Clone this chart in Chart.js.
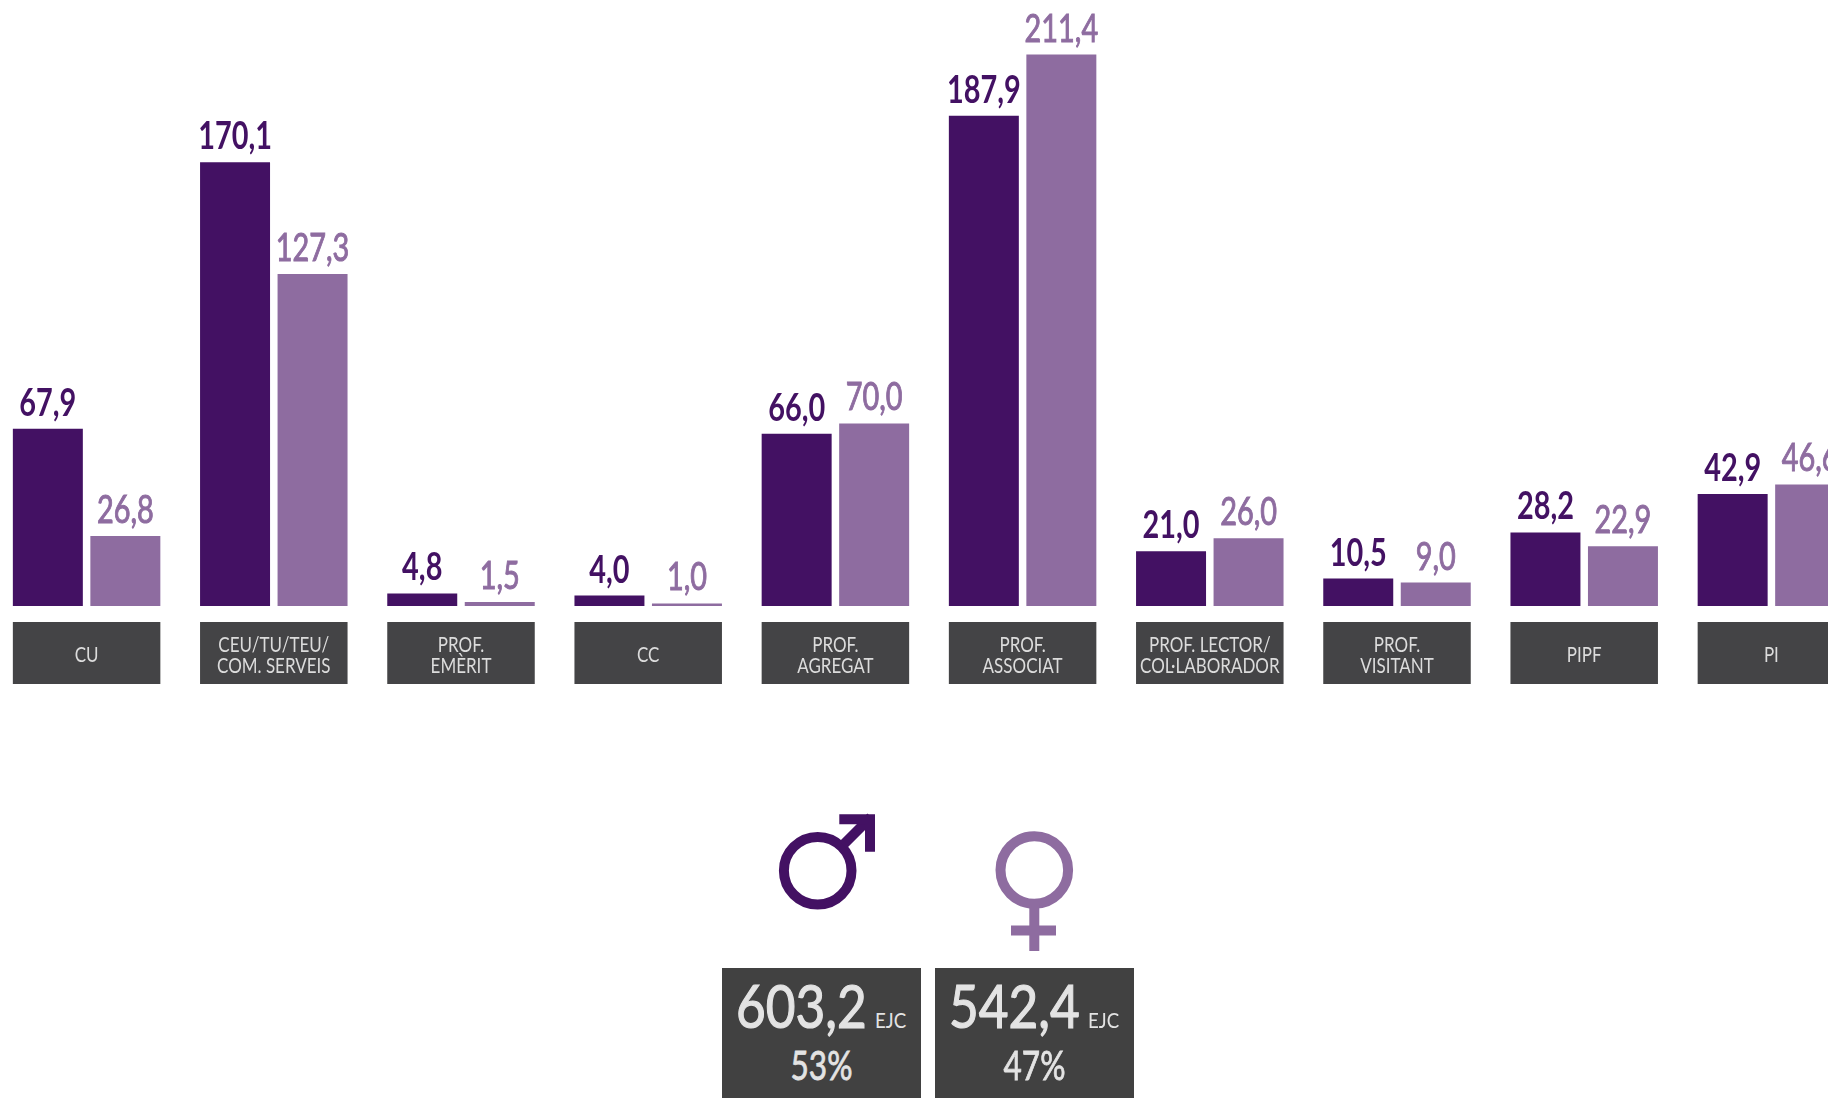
<!DOCTYPE html>
<html lang="ca"><head><meta charset="utf-8">
<style>
html,body{margin:0;padding:0;background:#fff;width:1828px;height:1098px;overflow:hidden;position:relative}
canvas{position:absolute;left:-7px;top:0}
.box{position:absolute;top:968px;width:199px;height:130px;background:#414141;color:#e3e3e3;font-family:Lato,"Open Sans",sans-serif}
.box span{position:absolute;white-space:nowrap;line-height:1}
.big{font-size:60px;left:14px;top:6.8px;transform:scaleX(.855);transform-origin:left top;-webkit-text-stroke:1.2px #e3e3e3}
.unit{font-size:22px;left:153px;top:40.5px;transform:scaleX(.85);transform-origin:left top}
.pct{font-size:41px;left:0;width:199px;text-align:center;top:75.6px;transform:scaleX(.77);transform-origin:center top;-webkit-text-stroke:.8px #e3e3e3}
svg{position:absolute;left:0;top:0}
</style>
<script src="https://cdn.jsdelivr.net/npm/chart.js@4/dist/chart.umd.min.js"></script>
</head><body>
<canvas id="c" width="1872" height="1098"></canvas>
<svg width="1828" height="1098">
  <g fill="none" stroke="#431163" stroke-width="10">
    <circle cx="817.7" cy="870.7" r="33.8"/>
    <path d="M843 845 L871 817"/>
    <path d="M839.3 819.3 H870 V851.7"/>
  </g>
  <g fill="none" stroke="#8E6CA0" stroke-width="10">
    <circle cx="1034.3" cy="870" r="33.8"/>
    <path d="M1034.3 904 V951"/>
    <path d="M1011 930.5 H1056"/>
  </g>
</svg>
<div class="box" style="left:722px"><span class="big" id="mt"></span><span class="unit">EJC</span><span class="pct" id="mp"></span></div>
<div class="box" style="left:935px"><span class="big" id="ft"></span><span class="unit">EJC</span><span class="pct" id="fp"></span></div>
<script>
const categories = [["CU"],["CEU/TU/TEU/","COM. SERVEIS"],["PROF.","EMÈRIT"],["CC"],["PROF.","AGREGAT"],["PROF.","ASSOCIAT"],["PROF. LECTOR/","COL·LABORADOR"],["PROF.","VISITANT"],["PIPF"],["PI"]];
const homes = [67.9,170.1,4.8,4.0,66.0,187.9,21.0,10.5,28.2,42.9];
const dones = [26.8,127.3,1.5,1.0,70.0,211.4,26.0,9.0,22.9,46.6];
const totals = ["603,2","542,4"];
const shares = ["53%","47%"];
const DARK="#431163", LIGHT="#8E6CA0", BOX="#444446", TICK="#dcdcdc";
const FONT='Lato,"Open Sans",sans-serif';

document.getElementById("mt").textContent=totals[0];
document.getElementById("ft").textContent=totals[1];
document.getElementById("mp").textContent=shares[0];
document.getElementById("fp").textContent=shares[1];

function squeezed(ctx,text,x,y,sx,stroke){
  ctx.save(); ctx.translate(x,y); ctx.scale(sx,1);
  if(stroke){ctx.lineWidth=stroke;ctx.strokeStyle=ctx.fillStyle;ctx.strokeText(text,0,0);}
  ctx.fillText(text,0,0); ctx.restore();
}

const decor={
  id:"decor",
  beforeDraw(chart){
    const x=chart.scales.x, ctx=chart.ctx;
    ctx.save();
    categories.forEach((lines,i)=>{
      const c=x.getPixelForValue(i);
      ctx.fillStyle=BOX;
      ctx.fillRect(c-73.75,622,147.5,62);
      ctx.fillStyle=TICK;
      ctx.font="21.5px "+FONT;
      ctx.textAlign="center"; ctx.textBaseline="alphabetic";
      const y0=654+8-(lines.length-1)*10.5;
      lines.forEach((t,k)=>squeezed(ctx,t,c,y0+k*21,0.79));
    });
    ctx.restore();
  },
  afterDatasetsDraw(chart){
    const ctx=chart.ctx;
    ctx.save();
    ctx.textAlign="center"; ctx.textBaseline="alphabetic";
    chart.data.datasets.forEach((ds,d)=>{
      ctx.font=(d===0?"bold ":"")+"38px "+FONT;
      ctx.fillStyle=ds.backgroundColor;
      chart.getDatasetMeta(d).data.forEach((bar,i)=>{
        squeezed(ctx,ds.data[i].toFixed(1).replace(".",","),bar.x,bar.y-13,0.76,d===1?1:0);
      });
    });
    ctx.restore();
  }
};

new Chart(document.getElementById("c"),{
  type:"bar",
  data:{labels:categories,datasets:[
    {label:"Homes",data:homes,backgroundColor:DARK,categoryPercentage:0.828,barPercentage:0.903},
    {label:"Dones",data:dones,backgroundColor:LIGHT,categoryPercentage:0.828,barPercentage:0.903}
  ]},
  options:{
    responsive:false,animation:false,
    layout:{padding:0},
    plugins:{legend:{display:false},tooltip:{enabled:false}},
    scales:{
      x:{
        afterFit(s){s.height=492;},
        grid:{display:false,drawTicks:false},border:{display:false},
        ticks:{display:false,autoSkip:false}
      },
      y:{display:false,min:0,max:232.3}
    }
  },
  plugins:[decor]
});
</script>
</body></html>
